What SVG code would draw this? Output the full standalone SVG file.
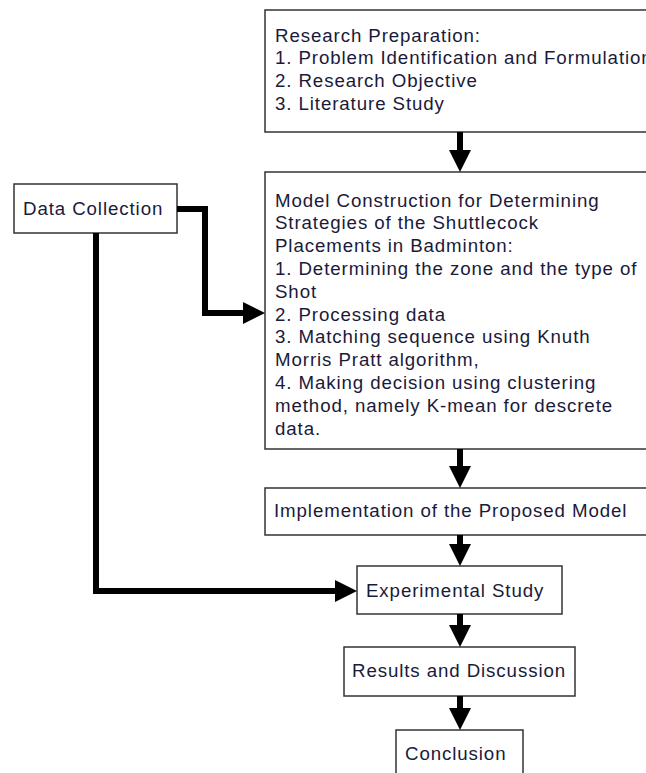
<svg xmlns="http://www.w3.org/2000/svg" width="646" height="773" viewBox="0 0 646 773">
<style>
.box{fill:#fff;stroke:#333;stroke-width:1.5}
.t{font-family:"Liberation Sans",Arial,sans-serif;font-size:18.7px;letter-spacing:0.9px;fill:#1a1a3a}
.c{fill:none;stroke:#000;stroke-width:6;stroke-linejoin:miter}
</style>
<defs>
<marker id="ah" markerUnits="userSpaceOnUse" markerWidth="22" markerHeight="22" refX="0" refY="11" orient="auto" viewBox="0 0 22 22">
<path d="M0,0 L22,11 L0,22 z" fill="#000"/>
</marker>
</defs>
<rect width="646" height="773" fill="#fff"/>
<g id="prep">
<rect class="box" x="265" y="10" width="420" height="122"/>
<text class="t" x="275" y="41.5">Research Preparation:</text>
<text class="t" x="275" y="64.2">1. Problem Identification and Formulation</text>
<text class="t" x="275" y="86.9">2. Research Objective</text>
<text class="t" x="275" y="109.6">3. Literature Study</text>
</g>
<g id="model">
<rect class="box" x="265" y="172" width="420" height="277"/>
<text class="t" x="275" y="206.5">Model Construction for Determining</text>
<text class="t" x="275" y="229.3">Strategies of the Shuttlecock</text>
<text class="t" x="275" y="252.1">Placements in Badminton:</text>
<text class="t" x="275" y="274.9">1. Determining the zone and the type of</text>
<text class="t" x="275" y="297.7">Shot</text>
<text class="t" x="275" y="320.5">2. Processing data</text>
<text class="t" x="275" y="343.3">3. Matching sequence using Knuth</text>
<text class="t" x="275" y="366.1">Morris Pratt algorithm,</text>
<text class="t" x="275" y="388.9">4. Making decision using clustering</text>
<text class="t" x="275" y="411.7">method, namely K-mean for descrete</text>
<text class="t" x="275" y="434.5">data.</text>
</g>
<g id="impl">
<rect class="box" x="265" y="488" width="420" height="47"/>
<text class="t" x="274" y="517">Implementation of the Proposed Model</text>
</g>
<g id="data">
<rect class="box" x="14" y="184" width="163" height="49"/>
<text class="t" x="23" y="215">Data Collection</text>
</g>
<g id="exp">
<rect class="box" x="357" y="566" width="205" height="48"/>
<text class="t" x="366" y="597">Experimental Study</text>
</g>
<g id="results">
<rect class="box" x="344" y="647" width="231" height="49"/>
<text class="t" x="352" y="677">Results and Discussion</text>
</g>
<g id="conclusion">
<rect class="box" x="396" y="730" width="127" height="60"/>
<text class="t" x="405" y="760">Conclusion</text>
</g>
<g id="connectors">
<path class="c" d="M460,132 V150" marker-end="url(#ah)"/>
<path class="c" d="M460,449 V466" marker-end="url(#ah)"/>
<path class="c" d="M460,535 V544" marker-end="url(#ah)"/>
<path class="c" d="M460,614 V625" marker-end="url(#ah)"/>
<path class="c" d="M460,696 V708" marker-end="url(#ah)"/>
<path class="c" d="M177,209 H205 V313 H243" marker-end="url(#ah)"/>
<path class="c" d="M96,233 V591 H335" marker-end="url(#ah)"/>
</g>
</svg>
